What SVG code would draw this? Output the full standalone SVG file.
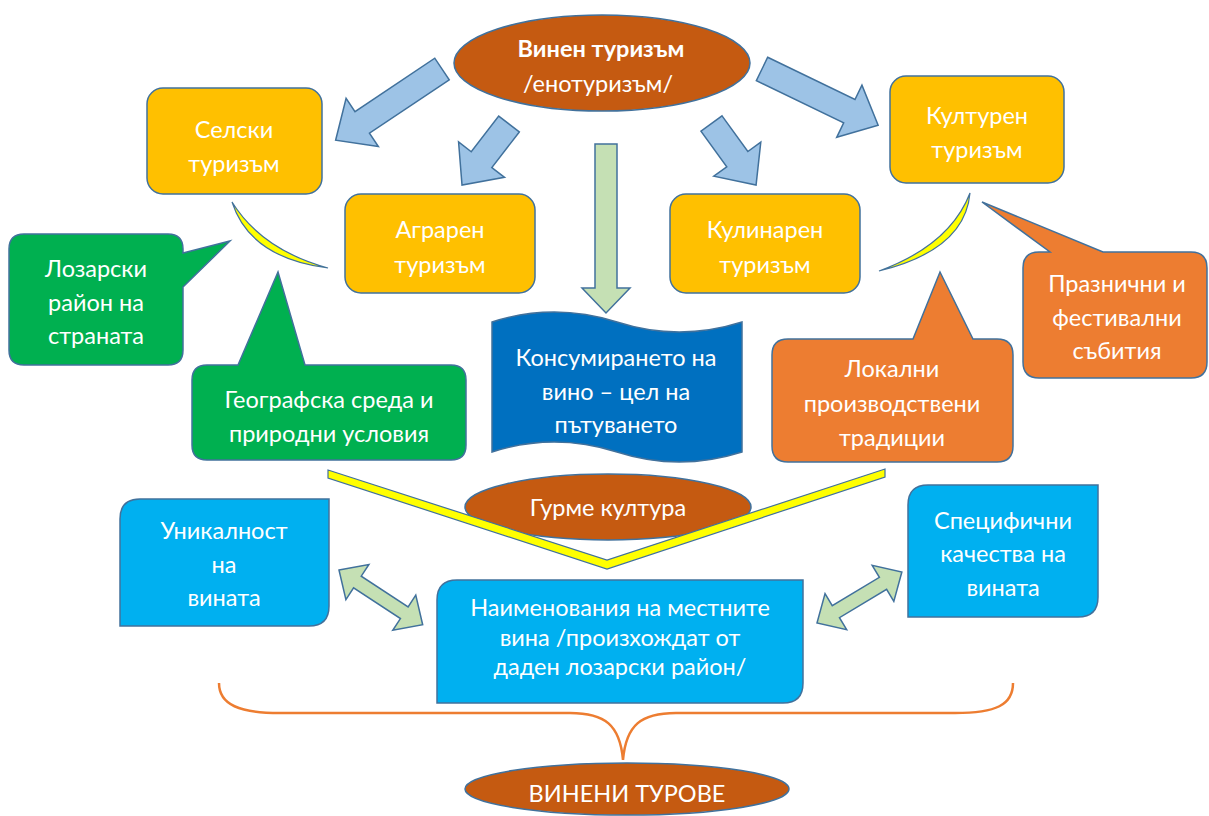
<svg xmlns="http://www.w3.org/2000/svg" width="1209" height="816" viewBox="0 0 1209 816">
<style>
text{font-family:Lato,"Open Sans","Liberation Sans",sans-serif;font-size:23.5px;fill:#fff;text-anchor:middle;dominant-baseline:central}
.st{stroke:#41719C;stroke-width:1.5}
.yel{fill:#FFC000}
.grn{fill:#00B050}
.org{fill:#ED7D31}
.brn{fill:#C55A11}
.lb{fill:#00B0F0}
.barr{fill:#9DC3E6;stroke:#41719C;stroke-width:1.5}
.garr{fill:#C5E0B4;stroke:#41719C;stroke-width:1.5}
.cres{fill:#FFFF00;stroke:#41719C;stroke-width:1.2}
</style>
<rect width="1209" height="816" fill="#fff"/>

<g id="connectors">
  <path class="barr" d="M0,-13 L96,-13 L96,-29 L128,0 L96,29 L96,13 L0,13 Z" transform="translate(442,69) rotate(146.2)"/>
  <path class="barr" d="M0,-13 L45,-13 L45,-29 L77,0 L45,29 L45,13 L0,13 Z" transform="translate(509,124) rotate(127.6)"/>
  <path class="barr" d="M0,-13 L44,-13 L44,-29 L76,0 L44,29 L44,13 L0,13 Z" transform="translate(711.5,123.5) rotate(54.1)"/>
  <path class="barr" d="M0,-13 L97,-13 L97,-29 L129,0 L97,29 L97,13 L0,13 Z" transform="translate(762,69) rotate(25.8)"/>
  <path class="garr" d="M595,144 H617 V288 H630 L606,313 L582,288 H595 Z"/>
  <path class="cres" d="M232,202 Q250,258 328,268 Q262,250 232,202 Z"/>
  <path class="cres" d="M970,193 Q965,250 879,271 Q950,245 970,193 Z"/>
  <path class="garr" d="M0,0 L22,-21 L22,-7 L78,-7 L78,-21 L100,0 L78,21 L78,7 L22,7 L22,21 Z" transform="translate(339,570) rotate(33.2)"/>
  <path class="garr" d="M0,0 L22,-21 L22,-7 L77,-7 L77,-21 L99,0 L77,21 L77,7 L22,7 L22,21 Z" transform="translate(817,623) rotate(-31)"/>
  <path d="M219,683 C219,705 240,713 280,713 L570,713 C605,713 620,725 623,760 C626,725 641,713 676,713 L955,713 C996,713 1013,705 1013,683" fill="none" stroke="#ED7D31" stroke-width="2.5"/>
</g>

<g id="n-top">
  <ellipse class="brn st" cx="602" cy="63" rx="148" ry="48"/>
  <text x="601" y="48" font-weight="bold">Винен туризъм</text>
  <text x="598" y="83">/енотуризъм/</text>
</g>

<g id="n-selski">
  <rect class="yel st" x="147" y="88" width="175" height="106" rx="16"/>
  <text x="234" y="129">Селски</text>
  <text x="234" y="163">туризъм</text>
</g>

<g id="n-kulturen">
  <rect class="yel st" x="890" y="76" width="174" height="107" rx="16"/>
  <text x="977" y="115">Културен</text>
  <text x="977" y="149">туризъм</text>
</g>

<g id="n-agraren">
  <rect class="yel st" x="345" y="194" width="190" height="99" rx="16"/>
  <text x="440" y="229">Аграрен</text>
  <text x="440" y="264">туризъм</text>
</g>

<g id="n-kulinaren">
  <rect class="yel st" x="670" y="194" width="190" height="99" rx="16"/>
  <text x="765" y="229">Кулинарен</text>
  <text x="765" y="264">туризъм</text>
</g>

<g id="n-lozarski">
  <path class="grn st" d="M24,234 H168 Q183,234 183,249 V253 L230,241 L183,287 V350 Q183,365 168,365 H24 Q9,365 9,350 V249 Q9,234 24,234 Z"/>
  <text x="96" y="268">Лозарски</text>
  <text x="96" y="302">район на</text>
  <text x="96" y="335">страната</text>
</g>

<g id="n-geo">
  <path class="grn st" d="M207,365 H238 L278,272 L305,365 H451 Q466,365 466,380 V445 Q466,460 451,460 H207 Q192,460 192,445 V380 Q192,365 207,365 Z"/>
  <text x="329" y="399">Географска среда и</text>
  <text x="329" y="433">природни условия</text>
</g>

<g id="n-wave">
  <path fill="#0070C0" class="st" d="M492,322 Q554,302 617,322 Q679,342 742,322 L742,452 Q679,472 617,452 Q554,432 492,452 Z"/>
  <text x="616" y="357">Консумирането на</text>
  <text x="616" y="391">вино – цел на</text>
  <text x="616" y="424">пътуването</text>
</g>

<g id="n-local">
  <path class="org st" d="M788,339 H913 L940,272 L973,339 H997 Q1013,339 1013,355 V446 Q1013,462 997,462 H788 Q772,462 772,446 V355 Q772,339 788,339 Z"/>
  <text x="892" y="368">Локални</text>
  <text x="892" y="403">производствени</text>
  <text x="892" y="437">традиции</text>
</g>

<g id="n-prazn">
  <path class="org st" d="M1039,252 H1050 L982,202 L1103,252 H1191 Q1207,252 1207,268 V362 Q1207,378 1191,378 H1039 Q1023,378 1023,362 V268 Q1023,252 1039,252 Z"/>
  <text x="1117" y="283">Празнични и</text>
  <text x="1117" y="317">фестивални</text>
  <text x="1117" y="350">събития</text>
</g>

<g id="n-gurme">
  <ellipse class="brn st" cx="608" cy="507" rx="143" ry="33"/>
  <text x="608" y="507">Гурме култура</text>
</g>

<g id="v-line">
  <path class="cres" d="M328,470 L607,560 L885,469 L885,477 L607,569 L328,478 Z"/>
</g>

<g id="n-unik">
  <path class="lb st" d="M140,499 H329 V606 Q329,626 309,626 H120 V519 Q120,499 140,499 Z"/>
  <text x="224" y="530">Уникалност</text>
  <text x="224" y="564">на</text>
  <text x="224" y="597">вината</text>
</g>

<g id="n-naim">
  <path class="lb st" d="M457,580 H803 V683 Q803,703 783,703 H437 V600 Q437,580 457,580 Z"/>
  <text x="620" y="607">Наименования на местните</text>
  <text x="620" y="637">вина /произхождат от</text>
  <text x="620" y="666">даден лозарски район/</text>
</g>

<g id="n-spec">
  <path class="lb st" d="M928,485 H1098 V597 Q1098,617 1078,617 H908 V505 Q908,485 928,485 Z"/>
  <text x="1003" y="520">Специфични</text>
  <text x="1003" y="553">качества на</text>
  <text x="1003" y="587">вината</text>
</g>

<g id="n-bottom">
  <ellipse class="brn st" cx="627" cy="789" rx="162" ry="26"/>
  <text x="627" y="793">ВИНЕНИ ТУРОВЕ</text>
</g>
</svg>
